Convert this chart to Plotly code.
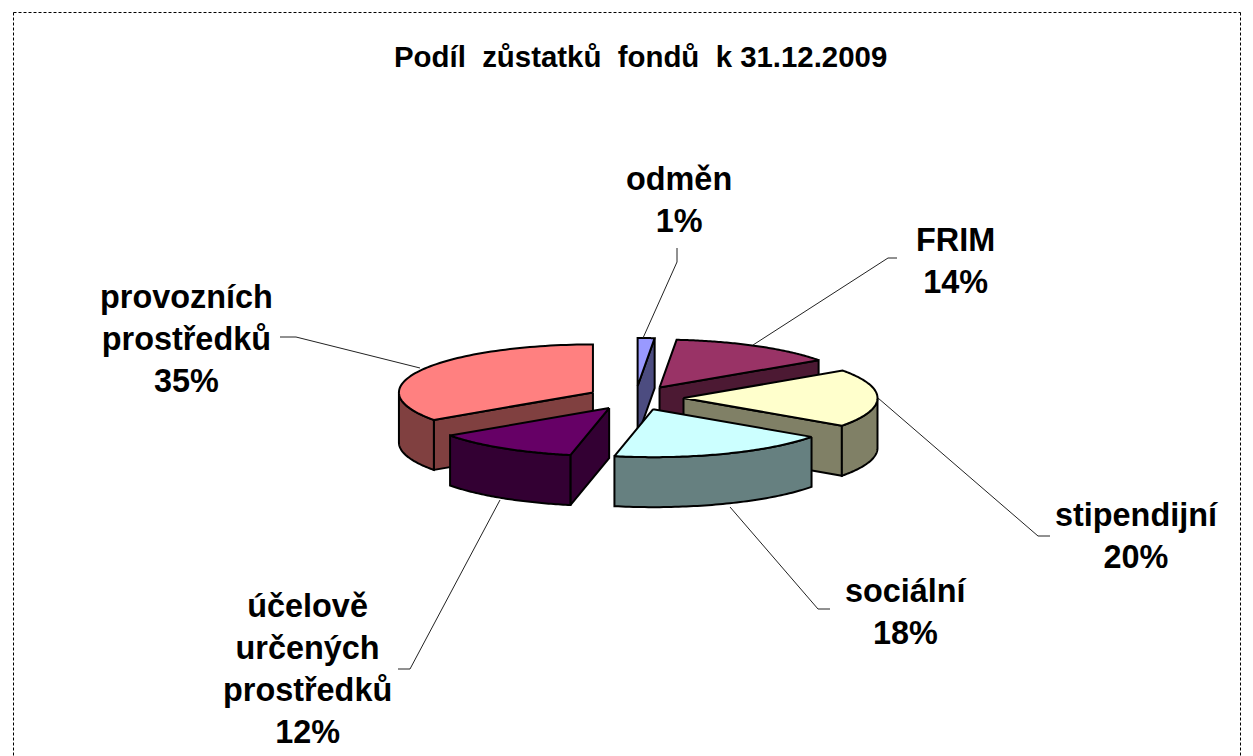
import math
import numpy as np
import plotly.graph_objects as go

TITLE = "Podíl\u00a0\u00a0zůstatků\u00a0\u00a0fondů\u00a0\u00a0k 31.12.2009"
categories = ["odměn", "FRIM", "stipendijní", "sociální", "účelově<br>určených<br>prostředků", "provozních<br>prostředků"]
shares = [1.4, 13.9, 19.5, 18.4, 12.1, 34.7]
top_colors = ["#9999FF", "#993366", "#FFFFCC", "#CCFFFF", "#660066", "#FF8080"]
wall_colors = ["#4C4C80", "#4C1933", "#808066", "#668080", "#330033", "#804040"]
label_x = [679, 955, 1136, 906, 307, 186]
label_y = [200, 261, 536, 612, 669, 339]
leaders = [
    [(677, 248), (677, 262), (643, 338)],
    [(897, 258), (888, 258), (753, 345)],
    [(1050, 536), (1038, 536), (878, 398)],
    [(830, 609), (818, 609), (730, 507)],
    [(398, 669), (410, 669), (500, 500)],
    [(280, 337), (296, 337), (420, 368)],
]

# projection of the tilted, exploded pie onto the page
CX, CY = 635.5, 398.0
RX, RY = 194.0, 48.0
PULL = 48.0
DEPTH = 50.0
SQUASH = 0.25
EDGE = 2.0


def project(theta, ox, oy):
    return ox + RX * np.sin(theta), oy - RY * np.cos(theta)


def add_poly(fig, xs, ys, fill):
    fig.add_trace(go.Scatter(
        x=list(xs) + [xs[0]], y=list(ys) + [ys[0]], mode="lines", fill="toself",
        fillcolor=fill, line=dict(color="black", width=EDGE, simplify=False),
        hoverinfo="skip", showlegend=False))


def add_wall(fig, xs, ys, fill):
    xs, ys = list(xs), list(ys)
    add_poly(fig, xs + xs[::-1], ys + [v + DEPTH for v in ys[::-1]], fill)


bounds = np.cumsum([0.0] + shares) / sum(shares) * 2 * math.pi
slices = []
for i in range(len(shares)):
    t1, t2 = bounds[i], bounds[i + 1]
    mid = (t1 + t2) / 2
    ox = CX + PULL * math.sin(mid)
    oy = CY - PULL * SQUASH * math.cos(mid)
    slices.append((i, t1, t2, ox, oy))

fig = go.Figure()
# painter's order: slices further back are drawn first
for i, t1, t2, ox, oy in sorted(slices, key=lambda s: s[4]):
    wall = wall_colors[i]
    # cut faces turned toward the viewer
    if math.sin(t1) < 0:
        px, py = project(t1, ox, oy)
        add_wall(fig, [ox, float(px)], [oy, float(py)], wall)
    if math.sin(t2) > 0:
        px, py = project(t2, ox, oy)
        add_wall(fig, [ox, float(px)], [oy, float(py)], wall)
    # front part of the rim
    a, b = max(t1, math.pi / 2), min(t2, 3 * math.pi / 2)
    if a < b:
        th = np.linspace(a, b, 60)
        rx, ry = project(th, ox, oy)
        add_wall(fig, rx.tolist(), ry.tolist(), wall)
    # top face
    th = np.linspace(t1, t2, 80)
    tx, ty = project(th, ox, oy)
    add_poly(fig, [ox] + tx.tolist(), [oy] + ty.tolist(), top_colors[i])

shapes = []
for path in leaders:
    for (x0, y0), (x1, y1) in zip(path, path[1:]):
        shapes.append(dict(type="line", x0=x0, y0=y0, x1=x1, y1=y1,
                           line=dict(color="#222222", width=1)))
border = dict(color="black", width=1, dash="3px,2px")
BL, BT, BR, BB = 13.5, 12.5, 1240.5, 770
for x0, y0, x1, y1 in [(BL, BT, BR, BT), (BL, BT, BL, BB), (BR, BT, BR, BB)]:
    shapes.append(dict(type="line", x0=x0, y0=y0, x1=x1, y1=y1, line=border))

annotations = [dict(x=640, y=56, text=f"<b>{TITLE}</b>", showarrow=False,
                    font=dict(family="Liberation Sans", size=29.4, color="black"))]
for name, share, lx, ly in zip(categories, shares, label_x, label_y):
    annotations.append(dict(x=lx, y=ly, text=f"<b>{name}<br>{round(share)}%</b>", showarrow=False,
                            align="center",
                            font=dict(family="Liberation Sans", size=32.4, color="black")))

fig.update_layout(
    width=1253, height=756, margin=dict(l=0, r=0, t=0, b=0),
    paper_bgcolor="white", plot_bgcolor="white", showlegend=False,
    xaxis=dict(range=[0, 1253], visible=False, fixedrange=True),
    yaxis=dict(range=[756, 0], visible=False, fixedrange=True),
    shapes=shapes, annotations=annotations,
)
fig.write_html("out.html", config=dict(displayModeBar=False),
               post_script="document.body.style.margin='0';document.body.style.overflow='hidden';")
